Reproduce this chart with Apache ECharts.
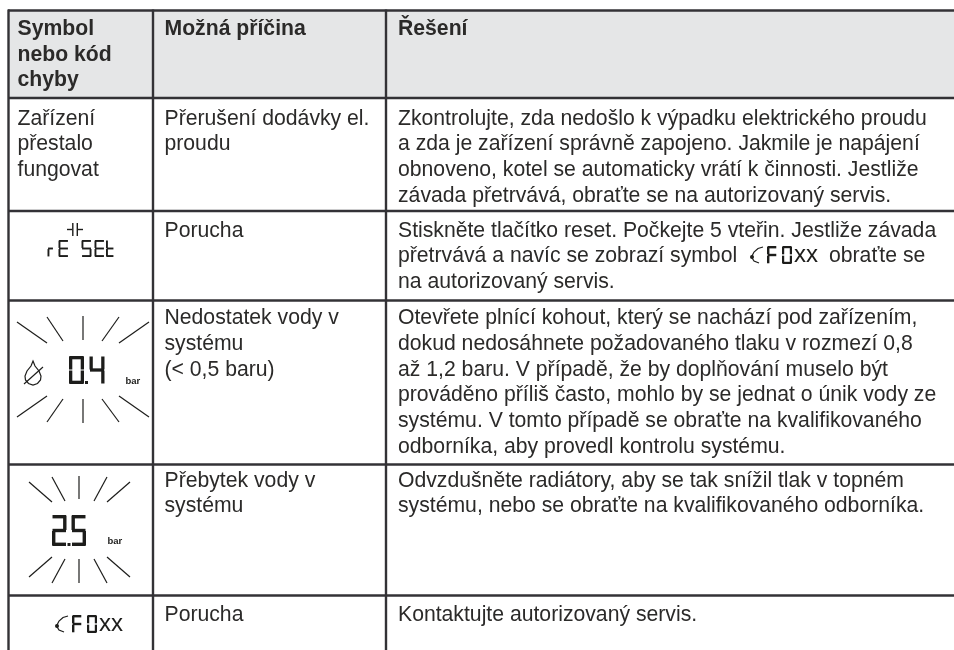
<!DOCTYPE html>
<html><head><meta charset="utf-8">
<style>html,body{margin:0;padding:0;background:#fff}#c{width:954px;height:650px}</style>
<script src="https://cdn.jsdelivr.net/npm/echarts@6/dist/echarts.min.js"></script>
</head><body><div id="c"></div>
<script>
const headers = [["Symbol","nebo kód","chyby"],["Možná příčina"],["Řešení"]];
const symbolTexts = [["Zařízení","přestalo","fungovat"]];
const causes = [
 ["Přerušení dodávky el.","proudu"],
 ["Porucha"],
 ["Nedostatek vody v","systému","(< 0,5 baru)"],
 ["Přebytek vody v","systému"],
 ["Porucha"]
];
const solutions = [
 ["Zkontrolujte, zda nedošlo k výpadku elektrického proudu","a zda je zařízení správně zapojeno. Jakmile je napájení","obnoveno, kotel se automaticky vrátí k činnosti. Jestliže","závada přetrvává, obraťte se na autorizovaný servis."],
 ["Stiskněte tlačítko reset. Počkejte 5 vteřin. Jestliže závada","přetrvává a navíc se zobrazí symbol","na autorizovaný servis."],
 ["Otevřete plnící kohout, který se nachází pod zařízením,","dokud nedosáhnete požadovaného tlaku v rozmezí 0,8","až 1,2 baru. V případě, že by doplňování muselo být","prováděno příliš často, mohlo by se jednat o únik vody ze","systému. V tomto případě se obraťte na kvalifikovaného","odborníka, aby provedl kontrolu systému."],
 ["Odvzdušněte radiátory, aby se tak snížil tlak v topném","systému, nebo se obraťte na kvalifikovaného odborníka."],
 ["Kontaktujte autorizovaný servis."]
];
const inlineTail = "obraťte se";
const unit = "bar";
const lcdLow = ["0","4"];
const lcdHigh = ["2","5"];
const lcdReset = ["r","E","S","E","t"];
const lcdCode = ["F","0"];
const codeSuffix = "xx";

const FONT = '"Liberation Sans", Arial, sans-serif';
const INK = '#2b2a29', RULE = '#333236', SYM='#1d1d1b';
const SIZE = 21.2;
const colX = [17.5, 164.5, 398];
const rules = [10.5, 98, 211, 300.5, 464.5, 595.5];
const baselines = [126, 238, 325.5, 488, 622];
const PITCH = 25.8;
const g = [];

function txt(s, x, y, o) {
  o = o || {};
  const size = o.size||SIZE;
  g.push({type:'text', z:5, style:{text:s, x, y:y-size*0.345, fill:o.fill||INK, font:(o.weight||'normal')+' '+size+'px '+FONT, textAlign:'left', textVerticalAlign:'middle', verticalAlign:'middle'}});
}
function line(x1,y1,x2,y2,w,c){
  g.push({type:'line', z:4, shape:{x1,y1,x2,y2}, style:{stroke:c||SYM, lineWidth:w||1.2}});
}
function poly(points,o){
  g.push({type:o&&o.closed?'polygon':'polyline', z:4, shape:{points}, style:{fill:null, stroke:SYM, lineWidth:1.2}});
}
// seven-segment glyphs: a top, b upper right, c lower right, d bottom, e lower left, f upper left, g middle
const SEG = {"0":"abcdef","2":"abged","4":"bcfg","5":"afgcd","F":"aefg","r":"eg","E":"adefg","S":"afgcd","t":"defg"};
function seg(ch,x,y,w,h,t,gapK){
  const m=y+h/2, s=SEG[ch], gp=t*(gapK===undefined?0.3:gapK);
  const r=(a,b,c,d)=>g.push({type:'rect',z:4,shape:{x:a,y:b,width:c,height:d},style:{fill:SYM}});
  if(s.includes('a')) r(x+gp,y,w-2*gp,t);
  if(s.includes('d')) r(x+gp,y+h-t,w-2*gp,t);
  if(s.includes('g')) r(x+gp,m-t/2,w-2*gp,t);
  if(s.includes('f')) r(x,y+gp,t,h/2-2*gp);
  if(s.includes('e')) r(x,m+gp,t,h/2-2*gp);
  if(s.includes('b')) r(x+w-t,y+gp,t,h/2-2*gp);
  if(s.includes('c')) r(x+w-t,m+gp,t,h/2-2*gp);
}
function codeIcon(x,y){
  poly([[x+13,y+1],[x+8,y+2.5],[x+4,y+6],[x+1.5,y+11],[x+4,y+15],[x+9,y+17]]);
  g.push({type:'circle',z:4,shape:{cx:x+2,cy:y+11,r:2},style:{fill:SYM}});
  seg(lcdCode[0],x+17,y,10,18,2.4);
  seg(lcdCode[1],x+32,y,10,18,2.2);
  txt(codeSuffix,x+44,y+18,{size:24,fill:SYM});
}
function rays(list){ list.forEach(a=>line(a[0],a[1],a[2],a[3],1.2)); }

// header band
g.push({type:'rect',z:1,shape:{x:8,y:10.5,width:946,height:87.5},style:{fill:'#e5e6e7'}});
// rules
rules.forEach(y=>line(8,y,954,y,2.4,RULE));
[8.5,153,386].forEach(x=>line(x,9.5,x,650,2.4,RULE));

// header text
[[36,62,87.5],[36],[36]].forEach((ys,c)=>ys.forEach((y,i)=>txt(headers[c][i],colX[c],y,{weight:'bold'})));
// first cell
symbolTexts[0].forEach((s,i)=>txt(s,colX[0],baselines[0]+i*PITCH));
// causes
causes.forEach((ls,r)=>ls.forEach((s,i)=>txt(s,colX[1],baselines[r]+i*PITCH)));
// solutions
solutions.forEach((ls,r)=>ls.forEach((s,i)=>txt(s,colX[2],baselines[r]+i*PITCH)));
txt(inlineTail,829,baselines[1]+PITCH);
codeIcon(750,246);

// reset symbol
seg(lcdReset[0],47.5,240,6,17,1.9);
seg(lcdReset[1],58.5,240,10,17,1.9);
seg(lcdReset[2],81.5,240,10,17,1.9);
seg(lcdReset[3],94.5,240,10,17,1.9);
seg(lcdReset[4],106,240,8,17,1.9);
line(72.8,223,72.8,236,1.4);line(77.3,223,77.3,236,1.4);line(67,229.5,72,229.5,1.4);line(78,229.5,83,229.5,1.4);

// low-pressure symbol
rays([[17,322,47,343],[47,317,63,341],[83,316,83,340],[119,317,102,341],[149,322,119,343],
      [17,417,47,396],[47,422,63,399],[83,423,83,399],[119,422,102,399],[149,417,119,396]]);
seg(lcdLow[0],69,356,15,28,3.3,0.15);
g.push({type:'rect',z:4,shape:{x:85,y:381,width:3,height:3},style:{fill:SYM}});
seg(lcdLow[1],89.5,356,15,28,3.3,0.15);
txt(unit,125.5,385,{size:9.5,weight:'bold',fill:SYM});
poly([[33,361],[35,366],[39,371],[41,376],[40.5,380],[37.5,383.5],[33,385],[28.5,383.5],[25.5,380],[25,376],[27,371],[31,366]],{closed:true});
line(24,384,43,367,1.2);

// over-pressure symbol
rays([[29,482,52,502],[52,477,65,501],[79,476,79,499],[107,477,94,501],[130,482,107,502],
      [29,577,52,557],[52,583,65,559],[79,583,79,559],[107,583,94,559],[130,577,107,557]]);
seg(lcdHigh[0],52,515,14.5,31,3.4,0.15);
g.push({type:'rect',z:4,shape:{x:67.5,y:543,width:3,height:3},style:{fill:SYM}});
seg(lcdHigh[1],71.5,515,14.5,31,3.4,0.15);
txt(unit,107.5,544.5,{size:9.5,weight:'bold',fill:SYM});

// error code symbol
codeIcon(55,615);

const chart = echarts.init(document.getElementById('c'),null,{renderer:'canvas'});
chart.setOption({animation:false,backgroundColor:'#fff',graphic:{elements:g}});
</script></body></html>
